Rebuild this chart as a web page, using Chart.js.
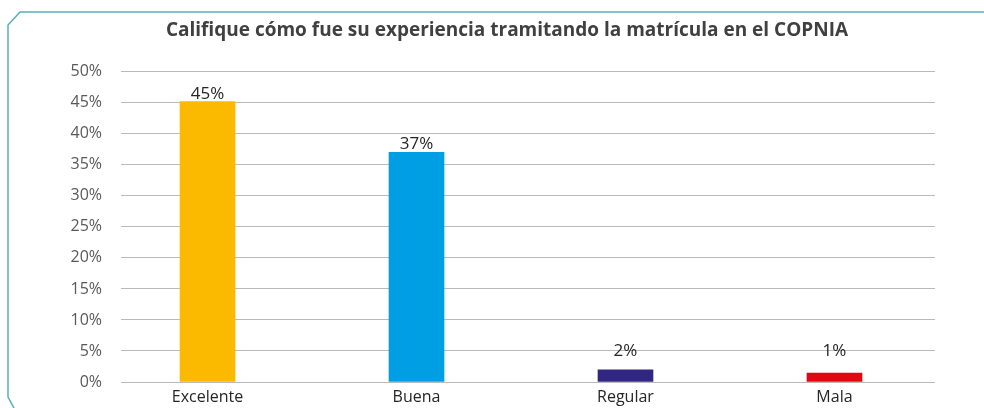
<!DOCTYPE html>
<html>
<head>
<meta charset="utf-8">
<script src="https://cdn.jsdelivr.net/npm/chart.js@4"></script>
<style>
  html, body { margin: 0; padding: 0; background: #ffffff; }
  #wrap { width: 984px; height: 408px; }
</style>
</head>
<body>
<div id="wrap"><canvas id="ratingChart" width="984" height="408"></canvas></div>
<script>
const categories = ["Excelente", "Buena", "Regular", "Mala"];
const values = [45.2, 37, 1.95, 1.45];
const barColors = ["#FBB900", "#009FE3", "#312783", "#E30613"];
const yTicks = [0, 5, 10, 15, 20, 25, 30, 35, 40, 45, 50];

// frame around the chart, with the cut corners
const framePlugin = {
    id: 'frame',
    beforeDraw(chart) {
        const ctx = chart.ctx;
        ctx.save();
        ctx.strokeStyle = '#5AAEB9';
        ctx.lineWidth = 1.5;
        ctx.beginPath();
        ctx.moveTo(chart.width + 2, 12);
        ctx.lineTo(20, 12);
        ctx.lineTo(8, 25);
        ctx.lineTo(8, 397);
        ctx.lineTo(15, chart.height + 2);
        ctx.stroke();
        ctx.restore();
    }
};

// value labels on top of the bars (short bars get their label lifted a bit)
const valueLabels = {
    id: 'valueLabels',
    afterDatasetsDraw(chart) {
        const ctx = chart.ctx;
        const meta = chart.getDatasetMeta(0);
        const base = chart.scales.y.getPixelForValue(0);
        ctx.save();
        ctx.font = '17px "Open Sans"';
        ctx.fillStyle = '#262626';
        ctx.textAlign = 'center';
        ctx.textBaseline = 'alphabetic';
        meta.data.forEach((bar, i) => {
            const y = Math.min(bar.y - 3, base - 26);
            ctx.fillText(Math.round(values[i]) + '%', bar.x, y);
        });
        ctx.restore();
    }
};

document.addEventListener("DOMContentLoaded", function () {
    const ctx = document.getElementById("ratingChart").getContext("2d");
    new Chart(ctx, {
        type: "bar",
        data: {
            datasets: [{
                data: values.map((v, i) => ({ x: i, y: v })),
                backgroundColor: barColors,
                barThickness: 55
            }]
        },
        options: {
            responsive: false,
            animation: false,
            layout: { padding: { left: 30, right: 0, top: 0, bottom: 0 } },
            plugins: {
                legend: { display: false },
                tooltip: { enabled: false },
                title: {
                    display: true,
                    text: "Califique cómo fue su experiencia tramitando la matrícula en el COPNIA",
                    color: '#404040',
                    font: { family: '"Open Sans"', size: 19, weight: 'bold' },
                    padding: { top: 19, bottom: 30 }
                }
            },
            scales: {
                x: {
                    type: 'linear',
                    min: -0.414,
                    max: 3.481,
                    bounds: 'data',
                    offset: false,
                    grid: { display: false },
                    border: { display: false },
                    afterBuildTicks: scale => { scale.ticks = categories.map((c, i) => ({ value: i })); },
                    ticks: {
                        autoSkip: false,
                        maxRotation: 0,
                        padding: -2,
                        color: '#262626',
                        font: { family: '"Open Sans"', size: 16 },
                        callback: v => categories[v] ?? ''
                    },
                    afterFit: scale => { scale.height = 26; }
                },
                y: {
                    min: 0,
                    max: 50,
                    afterBuildTicks: scale => { scale.ticks = yTicks.map(v => ({ value: v })); },
                    grid: { color: '#BABABA', lineWidth: 1, drawTicks: true, tickLength: 19, tickColor: 'rgba(0,0,0,0)' },
                    border: { display: false },
                    ticks: {
                        padding: 0,
                        color: '#595959',
                        font: { family: '"Open Sans"', size: 16 },
                        callback: v => v + '%'
                    },
                    afterFit: scale => { scale.width = 91; }
                },
                // empty right-hand strip, keeps the plot narrower than the title
                side: {
                    position: 'right',
                    min: 0,
                    max: 50,
                    grid: { display: false },
                    border: { display: false },
                    ticks: { display: false },
                    afterFit: scale => { scale.width = 49; }
                }
            }
        },
        plugins: [framePlugin, valueLabels]
    });
});
</script>
</body>
</html>
